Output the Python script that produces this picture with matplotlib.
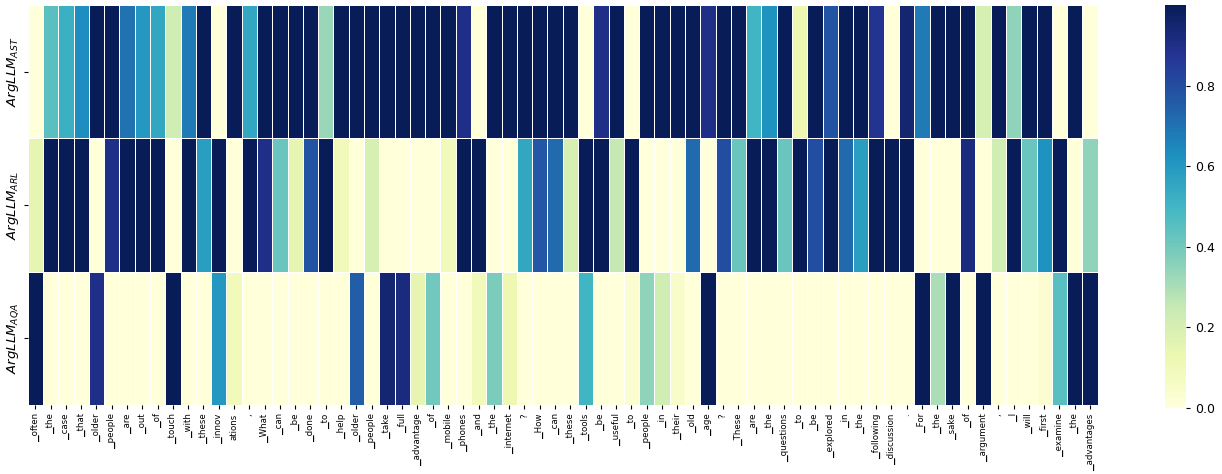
import numpy as np
import matplotlib
matplotlib.use("Agg")
import matplotlib.pyplot as plt
import seaborn as sns

tokens = ["\u2581often", "\u2581the", "\u2581case", "\u2581that", "\u2581older", "\u2581people", "\u2581are",
          "\u2581out", "\u2581of", "\u2581touch", "\u2581with", "\u2581these", "\u2581innov", "ations", ",",
          "\u2581What", "\u2581can", "\u2581be", "\u2581done", "\u2581to", "\u2581help", "\u2581older",
          "\u2581people", "\u2581take", "\u2581full", "\u2581advantage", "\u2581of", "\u2581mobile",
          "\u2581phones", "\u2581and", "\u2581the", "\u2581internet", "?", "\u2581How", "\u2581can",
          "\u2581these", "\u2581tools", "\u2581be", "\u2581useful", "\u2581to", "\u2581people", "\u2581in",
          "\u2581their", "\u2581old", "\u2581age", "?", "\u2581These", "\u2581are", "\u2581the",
          "\u2581questions", "\u2581to", "\u2581be", "\u2581explored", "\u2581in", "\u2581the",
          "\u2581following", "\u2581discussion", ".", "\u2581For", "\u2581the", "\u2581sake", "\u2581of",
          "\u2581argument", ",", "\u2581I", "\u2581will", "\u2581first", "\u2581examine", "\u2581the",
          "\u2581advantages"]

row_labels = ["$ArgLLM_{AST}$", "$ArgLLM_{ARL}$", "$ArgLLM_{AQA}$"]

ast = [0.0, 0.45, 0.52, 0.63, 1.0, 1.0, 0.7, 0.6, 0.55, 0.22,
       0.68, 1.0, 0.0, 1.0, 0.55, 1.0, 1.0, 1.0, 1.0, 0.33,
       1.0, 1.0, 1.0, 1.0, 1.0, 1.0, 1.0, 1.0, 0.9, 0.0,
       1.0, 1.0, 1.0, 1.0, 1.0, 1.0, 0.0, 0.9, 1.0, 0.0,
       1.0, 1.0, 1.0, 1.0, 0.9, 1.0, 1.0, 0.5, 0.62, 1.0,
       0.12, 1.0, 0.78, 1.0, 1.0, 0.88, 0.0, 0.95, 0.68, 1.0,
       1.0, 1.0, 0.2, 1.0, 0.35, 1.0, 1.0, 0.0, 1.0, 0.0]

arl = [0.15, 1.0, 1.0, 1.0, 0.0, 0.9, 1.0, 1.0, 1.0, 0.0,
       1.0, 0.58, 1.0, 0.0, 1.0, 0.9, 0.42, 0.15, 0.78, 1.0,
       0.1, 0.0, 0.2, 0.0, 0.0, 0.0, 0.0, 0.1, 1.0, 1.0,
       0.0, 0.0, 0.55, 0.77, 0.72, 0.2, 1.0, 1.0, 0.25, 1.0,
       0.0, 0.0, 0.0, 0.72, 0.0, 0.8, 0.42, 1.0, 1.0, 0.42,
       1.0, 0.8, 1.0, 0.72, 0.58, 1.0, 1.0, 1.0, 0.0, 0.0,
       0.0, 0.92, 0.0, 0.22, 1.0, 0.42, 0.62, 1.0, 0.0, 0.35]

aqa = [1.0, 0.0, 0.0, 0.0, 0.9, 0.0, 0.0, 0.0, 0.0, 1.0,
       0.0, 0.0, 0.6, 0.1, 0.0, 0.0, 0.0, 0.0, 0.0, 0.0,
       0.0, 0.75, 0.0, 0.95, 0.92, 0.15, 0.4, 0.0, 0.0, 0.1,
       0.38, 0.12, 0.0, 0.0, 0.0, 0.0, 0.5, 0.0, 0.0, 0.03,
       0.35, 0.22, 0.05, 0.0, 1.0, 0.0, 0.0, 0.0, 0.0, 0.0,
       0.0, 0.0, 0.0, 0.0, 0.0, 0.0, 0.0, 0.0, 1.0, 0.3,
       1.0, 0.0, 1.0, 0.0, 0.0, 0.0, 0.03, 0.45, 1.0, 1.0]

data = np.array([ast, arl, aqa])

W, H = 1222, 474
fig = plt.figure(figsize=(W / 100, H / 100), dpi=100)
ax = fig.add_axes([27.7 / W, (H - 405) / H, 1070 / W, 400 / H])
cax = fig.add_axes([1165 / W, (H - 407.7) / H, 21 / W, 402.7 / H])

sns.heatmap(data, ax=ax, cbar_ax=cax, cmap="YlGnBu", vmin=0, vmax=1,
            linewidths=0.6, linecolor="white",
            xticklabels=tokens, yticklabels=row_labels)

ax.set_xticklabels(tokens, rotation=90, fontsize=6.2, va="top", ha="center")
ax.set_yticklabels(row_labels, rotation=90, fontsize=9.5, va="center")
ax.tick_params(axis="x", length=3, pad=3)
ax.tick_params(axis="y", length=3, pad=2)

cax.tick_params(labelsize=9, length=3)
cax.set_yticks([0.0, 0.2, 0.4, 0.6, 0.8])
cax.set_yticklabels(["0.0", "0.2", "0.4", "0.6", "0.8"])
for s in cax.spines.values():
    s.set_visible(False)

fig.savefig("out.png", dpi=100)
